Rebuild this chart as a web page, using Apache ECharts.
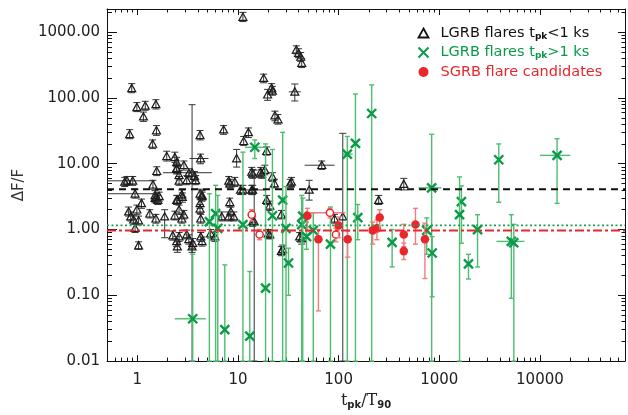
<!DOCTYPE html>
<html>
<head>
<meta charset="utf-8">
<script src="https://cdn.jsdelivr.net/npm/echarts@6/dist/echarts.min.js"></script>
<style>
  html, body { margin: 0; padding: 0; background: #fff; }
  #chart { width: 628px; height: 415px; }
</style>
</head>
<body>
<div id="chart"></div>
<script>
// axis ranges
const xRange = [0.5, 70000];
const yRange = [0.01, 2250];

// horizontal reference levels (black dashed, green dotted, red dash-dot)
const levelLT = 4.1;
const levelGT = 1.16;
const levelSGRB = 0.97;

// [x, y, yLow, yHigh, xLow, xHigh]
const lgrbShort = [
  [11.2, 1700, 1450, 2000], [38, 540, 470, 620], [40, 480, 410, 560], [42, 420, 360, 490],
  [43, 340, 290, 400], [18, 200, 170, 230], [21.6, 142, 120, 165], [19.7, 112, 92, 135],
  [22, 128, 110, 150], [36.7, 124, 90, 163, 32, 42], [23.3, 54, 45, 63], [25, 47, 40, 56],
  [0.88, 140, 120, 165], [0.99, 72, 62, 85], [1.2, 76, 65, 89], [1.15, 52, 44, 61],
  [1.53, 80, 68, 94], [0.84, 28, 24, 33], [1.55, 32, 27, 38], [1.42, 20, 17, 23],
  [1.96, 13, 11, 15.5], [2.36, 12.5, 10.5, 15], [2.46, 10.5, 9, 12.5], [2.9, 9.5, 8, 11],
  [2.46, 8.5, 7.2, 10], [4.2, 27, 23, 32], [4.25, 12, 10, 14, 3.3, 5.1], [7.2, 33, 28, 38],
  [9.7, 12, 8.9, 16.5], [11.4, 22, 19, 26], [12.7, 30, 25, 35], [19.3, 15.5, 13.5, 18],
  [18.5, 8, 6.8, 9.5], [3.5, 7.3, 0.01, 79, 1.8, 5.5], [14, 7, 6, 8.2], [17.2, 7, 6, 8.2],
  [22, 6.3, 5.4, 7.3], [23, 5, 4.3, 5.8], [33, 5, 4.3, 5.8], [8.3, 5, 4.3, 5.8],
  [9.3, 5.3, 4.5, 6.2], [0.79, 5.5, 4.7, 6.4, 0.5, 1.5], [0.9, 5.5, 4.7, 6.4],
  [0.95, 3.5, 3.0, 4.1, 0.5, 1.5], [1.43, 4.8, 4.1, 5.6], [1.56, 3.1, 2.6, 3.6],
  [2.6, 5.5, 4.7, 6.4], [2.5, 2.8, 2.4, 3.3], [2.8, 3.1, 2.6, 3.6], [4.2, 3.5, 3.0, 4.1],
  [4.4, 3.2, 2.7, 3.7], [11.2, 4.0, 3.4, 4.7], [14, 4.0, 3.4, 4.7, 10.5, 19],
  [51, 4.0, 2.8, 5.6], [68, 9.5, 8.2, 11, 46, 91], [8.3, 2.6, 2.2, 3.0], [444, 4.9, 4.0, 6.0],
  [250, 2.8, 2.4, 3.3], [1.56, 7.7, 6.6, 9], [2.46, 8.3, 7, 9.7], [2.6, 6.7, 5.7, 7.8],
  [3.25, 7.2, 6.1, 8.4], [3.7, 6.5, 5.5, 7.6], [0.75, 5.3, 4.5, 6.2], [3.1, 5.6, 4.8, 6.6],
  [3.8, 5.6, 4.8, 6.6], [8.1, 5.5, 4.7, 6.4], [13.7, 7.5, 6.4, 8.8], [16.8, 7.5, 6.4, 8.8],
  [13.7, 4.0, 3.4, 4.7], [10.6, 4.0, 3.4, 4.7], [1.5, 3.3, 2.8, 3.9], [1.1, 2.5, 2.1, 2.9],
  [2.46, 2.8, 2.4, 3.3], [2.77, 3.4, 2.9, 4.0], [4.4, 3.3, 2.8, 3.9], [4.2, 2.5, 2.1, 2.9],
  [0.82, 1.87, 1.6, 2.2], [0.99, 2.0, 1.7, 2.35], [0.86, 1.57, 1.35, 1.85], [0.92, 1.41, 1.2, 1.65],
  [1.03, 1.37, 1.17, 1.6], [0.95, 1.05, 0.9, 1.23], [1.33, 1.74, 1.5, 2.0], [1.53, 1.46, 1.25, 1.7],
  [1.87, 1.57, 0.75, 2.0], [2.36, 1.62, 1.4, 1.9], [2.6, 2.0, 1.7, 2.35], [2.77, 1.46, 1.25, 1.7],
  [2.9, 1.68, 1.45, 1.95], [4.2, 2.07, 1.75, 2.4], [4.27, 1.46, 1.25, 1.7], [6.9, 1.57, 1.35, 1.85],
  [8.1, 1.57, 1.35, 1.85], [9.1, 1.57, 1.35, 1.85], [8.5, 1.87, 1.6, 2.2], [1.03, 0.57, 0.5, 0.65],
  [2.6, 0.78, 0.66, 0.9], [3.1, 0.84, 0.72, 0.98], [2.5, 0.55, 0.45, 0.65], [3.25, 0.71, 0.6, 0.83],
  [4.4, 0.66, 0.56, 0.77], [4.27, 0.78, 0.66, 0.9], [3.5, 0.55, 0.45, 0.65], [2.25, 0.81, 0.69, 0.95],
  [2.46, 0.66, 0.55, 0.78], [3.55, 0.62, 0.52, 0.73], [5.35, 0.87, 0.74, 1.0], [5.9, 0.78, 0.66, 0.9],
  [14, 1.32, 1.12, 1.55], [20, 0.87, 0.74, 1.0], [27.8, 0.5, 0.42, 0.58], [43, 0.73, 0.6, 0.86],
  [34, 5.3, 4.5, 6.2], [19.3, 2.8, 2.4, 3.3], [20.7, 2.3, 1.95, 2.7], [27, 1.68, 1.45, 1.95],
  [110, 1.57, 0.01, 29], [14.5, 1.32, 0.01, 8], [91, 1.46, 1.25, 1.7], [41, 0.78, 0.66, 0.9],
  [20.7, 0.84, 0.72, 0.98], [27, 0.47, 0.4, 0.55], [1.5, 3.0, 2.55, 3.5], [1.6, 2.8, 2.4, 3.3],
  [1.65, 3.2, 2.7, 3.7]
];

const lgrbLong = [
  [14.7, 17.8, 12, 23, 11.7, 19.3], [5.2, 1.32, 0.01, 3.5], [6.0, 1.74, 0.01, 4.7],
  [6.3, 1.04, 0.01, 3.3], [11.2, 1.19, 0.01, 15], [3.55, 0.044, 0.01, 0.42, 2.36, 4.8],
  [7.4, 0.030, 0.01, 0.29], [13.1, 0.024, 0.01, 0.23], [18.8, 0.129, 0.01, 20],
  [22, 1.62, 0.01, 16.5], [27.8, 2.8, 0.01, 30], [30, 1.04, 0.01, 4.5], [31.8, 0.31, 0.1, 0.52],
  [43, 1.19, 0.01, 3.3], [44, 1.6, 0.01, 3], [48, 0.78, 0.5, 1.3], [56, 0.97, 0.01, 1.8],
  [83, 0.6, 0.01, 2.2], [155, 1.52, 0.7, 2.4], [340, 0.64, 0.27, 1.0],
  [122, 14, 0.01, 26, 110, 138], [147, 20.4, 0.01, 115], [213, 58, 0.01, 158],
  [840, 4.3, 0.01, 28, 620, 1050], [750, 0.97, 0.42, 1.5], [850, 0.44, 0.095, 0.78],
  [1660, 2.65, 0.62, 4.6], [1590, 1.68, 0.01, 6.3], [1950, 0.30, 0.177, 0.42],
  [2400, 1.0, 0.27, 1.68], [3900, 11.5, 2.6, 20], [14800, 13.4, 2.5, 24, 10000, 20000],
  [5200, 0.66, 0.09, 1.68, 3700, 7000], [5500, 0.63, 0.01, 1.2]
];

const sgrbFilled = [
  [49, 1.62, 0.95, 2.1], [63, 0.71, 0.058, 1.0], [100, 1.15, 0.75, 1.55], [123, 0.71, 0.38, 0.95],
  [218, 0.97, 0.6, 1.3], [240, 1.04, 0.7, 1.4], [256, 1.52, 0.95, 2.0], [444, 0.84, 0.55, 1.2],
  [444, 0.47, 0.35, 0.62], [580, 1.19, 0.6, 2.1], [720, 0.71, 0.18, 1.25]
];

const sgrbOpen = [
  [13.7, 1.68, 1.35, 2.0], [16.4, 0.84, 0.7, 1.0], [82, 1.8, 1.5, 2.1, 53, 117], [94, 0.84, 0.65, 1.05]
];

const legendText = {
  lt: 'LGRB flares t{s|pk}<1 ks',
  gt: 'LGRB flares t{s|pk}>1 ks',
  sgrb: 'SGRB flare candidates'
};

const GREEN = '#0a9a4a';
const RED = '#e8262c';
const SANS = 'DejaVu Sans';

const looks = {
  lt:   { bar: '#333', barW: 1, cap: 3.5 },
  gt:   { bar: '#4dbd6e', barW: 1.4, cap: 2.5 },
  sgrb: { bar: '#f27c7c', barW: 1.4, cap: 2.5 },
  open: { bar: '#f27c7c', barW: 1.4, cap: 2.5 }
};

function makeRender(kind) {
  const st = looks[kind];
  return function (params, api) {
    const x = api.value(0), y = api.value(1);
    const p = api.coord([x, y]);
    const cs = params.coordSys;
    const kids = [];
    const seg = (x1, y1, x2, y2) => kids.push({
      type: 'line', shape: { x1, y1, x2, y2 }, style: { stroke: st.bar, lineWidth: st.barW }
    });
    const ylo = api.value(2), yhi = api.value(3);
    if (ylo > 0 && yhi > 0) {
      const a = Math.min(api.coord([x, ylo])[1], cs.y + cs.height);
      const b = Math.max(api.coord([x, yhi])[1], cs.y);
      seg(p[0], a, p[0], b);
      seg(p[0] - st.cap, a, p[0] + st.cap, a);
      seg(p[0] - st.cap, b, p[0] + st.cap, b);
    }
    const xlo = api.value(4), xhi = api.value(5);
    if (xlo > 0 && xhi > 0) {
      seg(api.coord([xlo, y])[0], p[1], api.coord([xhi, y])[0], p[1]);
    }
    // marker on top of the bars
    if (kind === 'lt') {
      kids.push({ type: 'polygon',
        shape: { points: [[p[0] - 4, p[1] + 3.3], [p[0] + 4, p[1] + 3.3], [p[0], p[1] - 4]] },
        style: { fill: 'none', stroke: '#1a1a1a', lineWidth: 1.2 } });
    } else if (kind === 'gt') {
      const r = 4.5;
      kids.push({ type: 'line', shape: { x1: p[0] - r, y1: p[1] - r, x2: p[0] + r, y2: p[1] + r }, style: { stroke: GREEN, lineWidth: 2.4 } });
      kids.push({ type: 'line', shape: { x1: p[0] - r, y1: p[1] + r, x2: p[0] + r, y2: p[1] - r }, style: { stroke: GREEN, lineWidth: 2.4 } });
    } else if (kind === 'sgrb') {
      kids.push({ type: 'circle', shape: { cx: p[0], cy: p[1], r: 4.3 }, style: { fill: RED } });
    } else {
      kids.push({ type: 'circle', shape: { cx: p[0], cy: p[1], r: 3.6 }, style: { fill: '#fff', stroke: RED, lineWidth: 1.5 } });
    }
    return { type: 'group', children: kids };
  };
}

function pointSeries(name, kind, data) {
  return {
    name: name, type: 'custom', xAxisIndex: 0, yAxisIndex: 0,
    dimensions: ['x', 'y', 'ylo', 'yhi', 'xlo', 'xhi'],
    encode: { x: 0, y: 1 },
    renderItem: makeRender(kind),
    data: data, silent: true
  };
}

function levelSeries(level, color, width, dash) {
  return {
    type: 'line', xAxisIndex: 0, yAxisIndex: 0, silent: true, symbol: 'none',
    data: [[xRange[0], level], [xRange[1], level]],
    lineStyle: { color: color, width: width, type: dash }
  };
}

// tick positions in log10 space for the decoration axes
function majorTicks(range) {
  const out = [];
  for (let d = Math.ceil(Math.log10(range[0])); d <= Math.log10(range[1]); d++) out.push(d);
  return out;
}
function minorTicks(range) {
  const out = [];
  for (let d = Math.floor(Math.log10(range[0])); d <= Math.ceil(Math.log10(range[1])); d++) {
    for (let m = 2; m <= 9; m++) {
      const v = d + Math.log10(m);
      if (v > Math.log10(range[0]) && v < Math.log10(range[1])) out.push(v);
    }
  }
  return out;
}
function tickAxis(pos, range, vals, len, lineOn) {
  return {
    type: 'value', gridIndex: 0, position: pos,
    min: Math.log10(range[0]), max: Math.log10(range[1]),
    axisLine: { show: lineOn, onZero: false, lineStyle: { color: '#111', width: 1 } },
    axisLabel: { show: false }, splitLine: { show: false },
    axisTick: { show: true, inside: true, length: len, customValues: vals, lineStyle: { color: '#111', width: 1 } }
  };
}

function isDecade(v) {
  const l = Math.log10(v);
  return Math.abs(l - Math.round(l)) < 1e-6;
}

const chart = echarts.init(document.getElementById('chart'));
chart.setOption({
  animation: false,
  backgroundColor: '#fff',
  grid: { left: 107, right: 3, top: 9, bottom: 50 },
  legend: {
    orient: 'vertical', left: 416, top: 25, padding: 0, itemGap: 3.5,
    itemWidth: 10, itemHeight: 10,
    data: [
      { name: 'lt', icon: 'path://M5,0L10,9L0,9Z', itemStyle: { color: 'none', borderColor: '#111', borderWidth: 1.8 }, textStyle: { color: '#111' } },
      { name: 'gt', icon: 'path://M0,0L9,9M9,0L0,9', itemStyle: { color: 'none', borderColor: GREEN, borderWidth: 2 }, textStyle: { color: GREEN } },
      { name: 'sgrb', icon: 'circle', itemStyle: { color: RED, borderWidth: 0 }, textStyle: { color: RED } }
    ],
    formatter: n => legendText[n],
    textStyle: {
      fontFamily: SANS, fontSize: 14.5, lineHeight: 16, padding: [0, 0, 0, 7],
      rich: { s: { fontSize: 9, fontWeight: 'bold', lineHeight: 8, verticalAlign: 'bottom' } }
    }
  },
  xAxis: [
    {
      type: 'log', gridIndex: 0, position: 'bottom', min: xRange[0], max: xRange[1],
      axisLine: { show: true, onZero: false, lineStyle: { color: '#111', width: 1 } },
      axisTick: { show: false }, splitLine: { show: false },
      axisLabel: { margin: 12, fontSize: 15, fontFamily: SANS, color: '#222',
        formatter: v => isDecade(v) ? String(Math.round(v)) : '' },
      name: '{t|t}{s|pk}{t|/T}{s|90}', nameLocation: 'middle', nameGap: 30,
      nameTextStyle: {
        rich: {
          t: { fontFamily: 'DejaVu Serif', fontSize: 16, color: '#222', lineHeight: 18 },
          s: { fontFamily: SANS, fontSize: 10, fontWeight: 'bold', color: '#222', lineHeight: 8, verticalAlign: 'bottom' }
        }
      }
    },
    tickAxis('bottom', xRange, majorTicks(xRange), 6, false),
    tickAxis('bottom', xRange, minorTicks(xRange), 3.5, false),
    tickAxis('top', xRange, majorTicks(xRange), 6, true),
    tickAxis('top', xRange, minorTicks(xRange), 3.5, false)
  ],
  yAxis: [
    {
      type: 'log', gridIndex: 0, position: 'left', min: yRange[0], max: yRange[1],
      axisLine: { show: true, onZero: false, lineStyle: { color: '#111', width: 1 } },
      axisTick: { show: false }, splitLine: { show: false },
      axisLabel: { margin: 7, fontSize: 15, fontFamily: SANS, color: '#222',
        formatter: v => isDecade(v) ? v.toFixed(2) : '' },
      name: 'ΔF/F', nameLocation: 'middle', nameRotate: 90, nameGap: 80,
      nameTextStyle: { fontFamily: SANS, fontSize: 15, color: '#333' }
    },
    tickAxis('left', yRange, majorTicks(yRange), 10, false),
    tickAxis('left', yRange, minorTicks(yRange), 5, false),
    tickAxis('right', yRange, majorTicks(yRange), 7, true),
    tickAxis('right', yRange, minorTicks(yRange), 3.5, false)
  ],
  series: [
    pointSeries('lt', 'lt', lgrbShort),
    pointSeries('gt', 'gt', lgrbLong),
    pointSeries('open', 'open', sgrbOpen),
    pointSeries('sgrb', 'sgrb', sgrbFilled),
    levelSeries(levelLT, '#111', 2, [7, 5]),
    levelSeries(levelGT, '#1fa04f', 1.8, [2, 2.5]),
    levelSeries(levelSGRB, RED, 2, [9, 3, 3, 3])
  ]
});
</script>
</body>
</html>
